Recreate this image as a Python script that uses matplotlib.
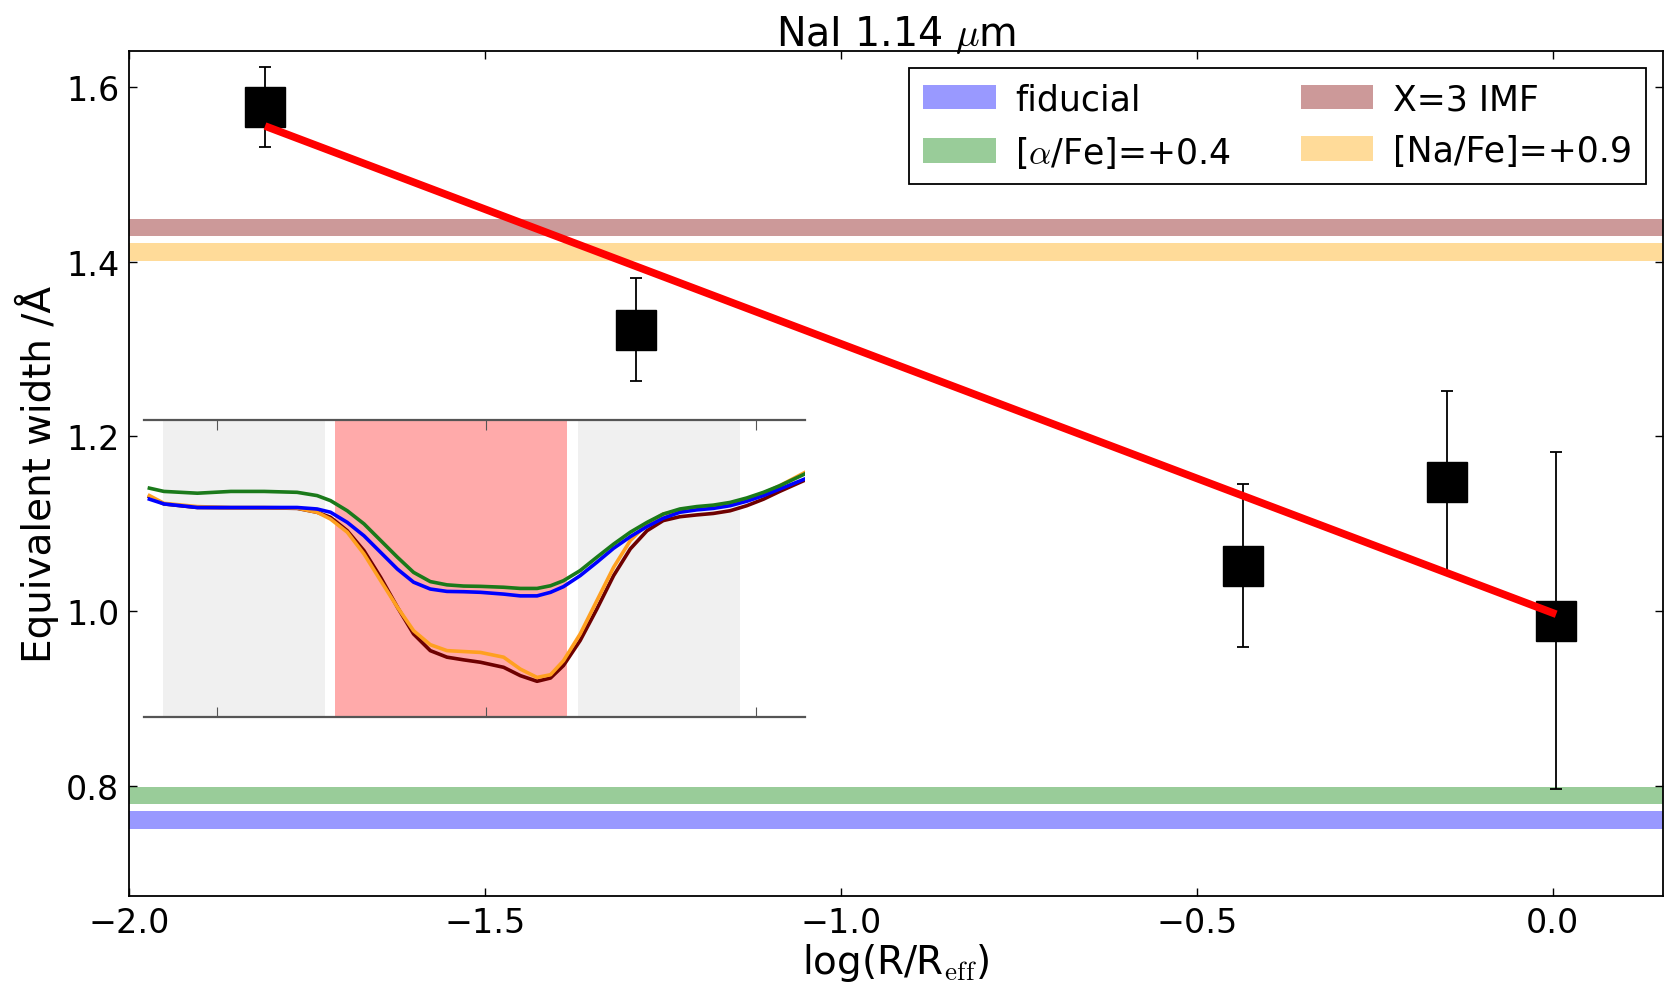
import matplotlib
matplotlib.use("Agg")
import matplotlib.pyplot as plt
import numpy as np

plt.rcParams["font.family"] = ["DejaVu Sans"]
plt.rcParams["mathtext.fontset"] = "cm"

# Radial NaI 1.14 micron equivalent widths
log_r = [-1.809, -1.288, -0.435, -0.148, 0.005]
ew = [1.577, 1.322, 1.052, 1.148, 0.989]
ew_err = [0.046, 0.059, 0.093, 0.104, 0.193]

# Linear gradient fit
fit_slope = -0.308
fit_intercept = 0.998

# Model predictions (horizontal bands)
model_names = ["fiducial", r"[$\alpha$/Fe]=+0.4", "X=3 IMF", "[Na/Fe]=+0.9"]
model_ew = [0.761, 0.789, 1.439, 1.411]
model_colors = ["blue", "green", "maroon", "orange"]
band_half = 0.01

# Index definition (Angstrom)
blue_cont = (11340.0, 11370.0)
feature = (11372.0, 11415.0)
red_cont = (11417.0, 11447.0)

# Model spectra around the feature (normalised flux)
wave = [11337.5, 11340.2, 11346.4, 11352.6, 11358.8, 11364.9, 11368.6, 11371.1,
        11374.2, 11377.3, 11380.4, 11383.5, 11386.5, 11389.6, 11392.7, 11395.8,
        11398.9, 11403.2, 11406.3, 11409.4, 11411.9, 11414.3, 11417.4, 11420.5,
        11423.6, 11426.7, 11429.8, 11432.8, 11435.9, 11439.0, 11442.1, 11445.2,
        11448.3, 11451.4, 11454.4, 11459.1]
flux_fiducial = [0.733, 0.717, 0.705, 0.705, 0.705, 0.705, 0.700, 0.689,
                 0.655, 0.610, 0.554, 0.498, 0.454, 0.431, 0.423, 0.422,
                 0.420, 0.414, 0.408, 0.408, 0.420, 0.439, 0.476, 0.521,
                 0.568, 0.607, 0.641, 0.669, 0.689, 0.697, 0.702, 0.711,
                 0.726, 0.745, 0.767, 0.801]
flux_alpha = [0.770, 0.759, 0.753, 0.759, 0.759, 0.756, 0.745, 0.728,
              0.694, 0.650, 0.594, 0.538, 0.487, 0.456, 0.445, 0.441,
              0.440, 0.437, 0.433, 0.433, 0.442, 0.459, 0.493, 0.538,
              0.582, 0.622, 0.655, 0.683, 0.700, 0.708, 0.713, 0.722,
              0.737, 0.756, 0.778, 0.818]
flux_imf = [0.741, 0.717, 0.705, 0.704, 0.704, 0.702, 0.689, 0.672,
            0.627, 0.560, 0.470, 0.370, 0.280, 0.224, 0.202, 0.193,
            0.185, 0.168, 0.140, 0.121, 0.132, 0.174, 0.258, 0.364,
            0.476, 0.566, 0.627, 0.661, 0.674, 0.680, 0.685, 0.694,
            0.711, 0.733, 0.759, 0.797]
flux_na = [0.745, 0.719, 0.708, 0.705, 0.705, 0.703, 0.689, 0.666,
           0.622, 0.549, 0.459, 0.370, 0.291, 0.244, 0.224, 0.221,
           0.218, 0.202, 0.162, 0.134, 0.143, 0.190, 0.280, 0.392,
           0.504, 0.594, 0.650, 0.683, 0.694, 0.702, 0.708, 0.717,
           0.731, 0.753, 0.778, 0.823]

fig = plt.figure(figsize=(16.74, 9.95), dpi=100)
ax = fig.add_axes([0.0771, 0.0985, 0.9163, 0.8492])

for name, val, col in zip(model_names, model_ew, model_colors):
    ax.axhspan(val - band_half, val + band_half, color=col, alpha=0.4, lw=0,
               label=name, zorder=1)

ax.errorbar(log_r, ew, yerr=ew_err, fmt="s", color="black", ms=29,
            mec="black", ecolor="black", elinewidth=1.3, capsize=4.5,
            capthick=1.3, zorder=3)

x_fit = np.array([log_r[0], log_r[-1]])
ax.plot(x_fit, fit_intercept + fit_slope * x_fit, color="red", lw=5.5,
        solid_capstyle="butt", zorder=4)

ax.set_xlim(-2.0, 0.155)
ax.set_ylim(0.674, 1.641)
ax.set_xticks([-2.0, -1.5, -1.0, -0.5, 0.0])
ax.set_yticks([0.8, 1.0, 1.2, 1.4, 1.6])
ax.tick_params(direction="in", top=True, right=True, length=6, width=1,
               labelsize=24, pad=7)
for sp in ax.spines.values():
    sp.set_linewidth(1.3)

ax.set_title(r"NaI 1.14 $\mu$m", fontsize=28.5, pad=4)
ax.set_xlabel(r"log(R/R$_{\rm eff}$)", fontsize=28, labelpad=2)
ax.set_ylabel("Equivalent width /Å", fontsize=28, labelpad=5)

leg = ax.legend(loc="upper right", ncol=2, fontsize=25, frameon=True,
                fancybox=False, edgecolor="black", framealpha=1,
                borderaxespad=0.5, columnspacing=2.0, handlelength=2.1,
                handleheight=0.7, handletextpad=0.55, borderpad=0.4,
                labelspacing=0.5)
leg.get_frame().set_linewidth(1.3)

# Inset: model spectra with the index bandpasses
axin = fig.add_axes([144 / 1674, 1 - 718.3 / 995, 661 / 1674, 297.6 / 995])
axin.set_facecolor("white")
axin.axvspan(*blue_cont, color="#f0f0f0", lw=0)
axin.axvspan(*feature, color="#ffaaaa", lw=0)
axin.axvspan(*red_cont, color="#f0f0f0", lw=0)
axin.plot(wave, flux_imf, color="#6e0000", lw=2.6)
axin.plot(wave, flux_na, color="#ffa020", lw=2.6)
axin.plot(wave, flux_fiducial, color="blue", lw=2.6)
axin.plot(wave, flux_alpha, color="#1a7a1a", lw=2.6)
axin.set_xlim(11336.5, 11459.1)
axin.set_ylim(0.0, 1.0)
axin.set_xticks([11350, 11400, 11450])
axin.set_xticklabels([])
axin.set_yticks([])
axin.tick_params(axis="x", direction="in", top=True, bottom=True, length=7,
                 color="#555555")
axin.spines["left"].set_visible(False)
axin.spines["right"].set_visible(False)
for side in ("top", "bottom"):
    axin.spines[side].set_color("#555555")
    axin.spines[side].set_linewidth(1.6)

fig.savefig("out.png", dpi=100)
